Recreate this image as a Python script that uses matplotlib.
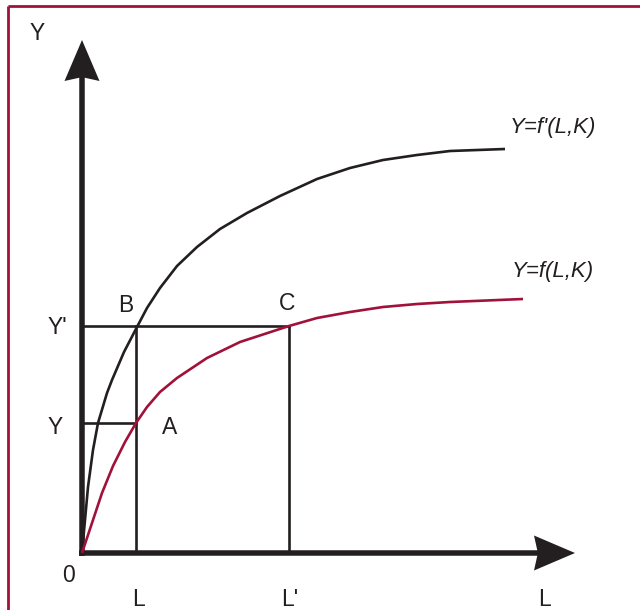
import matplotlib
matplotlib.use("Agg")
import matplotlib.pyplot as plt
from matplotlib.patches import FancyArrow

plt.rcParams['font.family'] = ['Liberation Sans', 'DejaVu Sans']

# ---- data (units: arbitrary, origin at 0) ----
labor_f_prime = [0, 3, 6, 11, 16, 25, 30, 42, 55, 65, 78, 95, 115, 138, 165, 198, 235,
                 268, 301, 335, 368, 423]
output_f_prime = [0, 33, 66, 103, 130, 160, 173, 201, 226, 245, 265, 287, 306, 324, 340,
                  357, 374, 385, 393, 398, 402, 404]

labor_f = [0, 11, 20, 31, 43, 54, 65, 78, 95, 125, 158, 207, 235, 268, 301, 335, 368, 441]
output_f = [0, 33, 60, 87, 111, 130, 146, 161, 175, 195, 211, 227, 235, 241, 246, 249, 251, 254]

L0, L1 = 54, 207      # L, L'
Y0, Y1 = 130, 227     # Y, Y'

INK = '#231F20'
RED = '#A1123A'

fig = plt.figure(figsize=(6.4, 6.1), dpi=100)
ax = fig.add_axes([0, 0, 1, 1])
ax.set_xlim(-82, 558)
ax.set_ylim(-57, 553)
ax.axis('off')

# frame (top and left crimson rules)
ax.plot([-74, 558], [547, 547], color=RED, lw=2.0, clip_on=False, solid_capstyle='butt')
ax.plot([-74, -74], [547, -57], color=RED, lw=2.0, clip_on=False, solid_capstyle='butt')

# guide lines
lw_g = 1.9
ax.plot([0, L1], [Y1, Y1], color=INK, lw=lw_g)
ax.plot([0, L0], [Y0, Y0], color=INK, lw=lw_g)
ax.plot([L0, L0], [0, Y1], color=INK, lw=lw_g)
ax.plot([L1, L1], [0, Y1], color=INK, lw=lw_g)

# curves
ax.plot(labor_f_prime, output_f_prime, color=INK, lw=1.9,
        solid_joinstyle='round', solid_capstyle='butt')
ax.plot(labor_f, output_f, color=RED, lw=1.9,
        solid_joinstyle='round', solid_capstyle='butt')

# axes arrows
ax.add_patch(FancyArrow(0, -3, 0, 516, width=5.5, head_width=35, head_length=41,
                        length_includes_head=True, overhang=0.08, color=INK, lw=0))
ax.add_patch(FancyArrow(-3, 0, 496, 0, width=5.5, head_width=35, head_length=41,
                        length_includes_head=True, overhang=0.08, color=INK, lw=0))

fs = 16.5
kw = dict(fontsize=fs, color=INK, ha='center', va='center')
ax.text(-45, 520, 'Y', **kw)
ax.text(-25, 225, "Y'", **kw)
ax.text(-27, 126, 'Y', **kw)
ax.text(-14, -22, '0', **kw)
ax.text(L0 + 2, -46, 'L', **kw)
ax.text(L1 + 1, -46, "L'", **kw)
ax.text(462, -46, 'L', **kw)
ax.text(44, 248, 'B', **kw)
ax.text(205, 249, 'C', **kw)
ax.text(88, 126, 'A', **kw)
kw_i = dict(kw, fontsize=16)
ax.text(471, 425, "Y=f'(L,K)", style='italic', **kw_i)
ax.text(471, 281, 'Y=f(L,K)', style='italic', **kw_i)

fig.savefig('out.png', dpi=100)
